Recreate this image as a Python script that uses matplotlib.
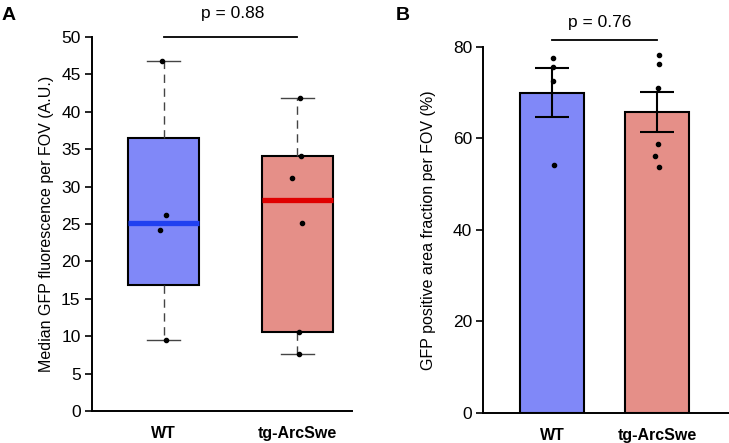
import numpy as np
import matplotlib
matplotlib.use("Agg")
import matplotlib.pyplot as plt

plt.rcParams['font.family'] = ['Liberation Sans', 'DejaVu Sans']

# ---- data ----
groups = ["WT", "tg-ArcSwe"]

# panel A: per-animal median GFP fluorescence (A.U.)
fluor_wt = [46.8, 26.2, 24.2, 9.5]
fluor_tg = [41.9, 34.1, 31.1, 25.2, 10.5, 7.6]
p_fluor = "p = 0.88"

# panel B: GFP positive area fraction (%)
area_wt = [77.6, 75.5, 72.6, 54.2]
area_tg = [78.2, 76.2, 71.0, 58.8, 56.2, 53.7]
p_area = "p = 0.76"

# small horizontal jitter for the dots (data units)
jit_a = [[-0.01, 0.015, -0.028, 0.022], [0.02, 0.03, -0.042, 0.035, 0.01, 0.013]]
jit_b = [[0.005, 0.003, 0.01, 0.02], [0.015, 0.02, 0.008, 0.01, -0.018, 0.017]]

fills = ["#8088F8", "#E58F88"]
medcols = ["#2040F0", "#E00000"]


def hinge_stats(vals, label):
    # R-style boxplot stats (Tukey hinges)
    v = np.sort(np.asarray(vals, dtype=float))
    n = len(v)
    med = np.median(v)
    half = (n + 1) // 2
    q1 = np.median(v[:half])
    q3 = np.median(v[n - half:])
    return dict(med=med, q1=q1, q3=q3, whislo=v.min(), whishi=v.max(),
                fliers=[], label=label)


fig = plt.figure(figsize=(7.29, 4.43), dpi=100)
axA = fig.add_axes([0.1258, 0.0722, 0.3571, 0.8443])
axB = fig.add_axes([0.663, 0.0684, 0.337, 0.8262])

# ==============================
# PANEL A - boxplot
# ==============================
stats = [hinge_stats(fluor_wt, groups[0]), hinge_stats(fluor_tg, groups[1])]
bp = axA.bxp(stats, positions=[1, 2], widths=0.53, patch_artist=True,
             capwidths=0.25, showfliers=False,
             boxprops=dict(edgecolor="black", linewidth=1.5),
             whiskerprops=dict(color="#444444", linewidth=1.0, linestyle=(0, (6, 4))),
             capprops=dict(color="#444444", linewidth=1.0),
             medianprops=dict(linewidth=3.8, solid_capstyle="butt"))
for i, box in enumerate(bp["boxes"]):
    box.set_facecolor(fills[i])
    box.set_zorder(2)
for i, med in enumerate(bp["medians"]):
    med.set_color(medcols[i])
    med.set_zorder(3)

for i, vals in enumerate([fluor_wt, fluor_tg]):
    xs = np.array(jit_a[i]) + i + 1
    axA.plot(xs, vals, "o", color="black", markersize=3.0, zorder=4)

axA.set_xlim(0.463, 2.41)
axA.set_ylim(0, 50)
axA.set_yticks(range(0, 51, 5))
axA.set_ylabel("Median GFP fluorescence per FOV (A.U.)", fontsize=11.5, labelpad=5)

axA.plot([1, 2], [50, 50], color="black", linewidth=1.3, clip_on=False)
axA.text(1.52, 53.2, p_fluor, ha="center", va="center", fontsize=12.5)

# ==============================
# PANEL B - bar chart with SEM
# ==============================
means = [np.mean(area_wt), np.mean(area_tg)]
sems = [np.std(area_wt, ddof=1) / np.sqrt(len(area_wt)),
        np.std(area_tg, ddof=1) / np.sqrt(len(area_tg))]
axB.bar([1, 2], means, width=0.61, color=fills, edgecolor="black",
        linewidth=1.5, zorder=2)
axB.errorbar([1, 2], means, yerr=sems, fmt="none", ecolor="black",
             elinewidth=1.5, capsize=12, capthick=1.5, zorder=3)
for i, vals in enumerate([area_wt, area_tg]):
    xs = np.array(jit_b[i]) + i + 1
    axB.plot(xs, vals, "o", color="black", markersize=3.0, zorder=4)

axB.set_xlim(0.343, 2.684)
axB.set_ylim(0, 80)
axB.set_yticks(range(0, 81, 20))
axB.set_ylabel("GFP positive area fraction per FOV (%)", fontsize=11.5, labelpad=12)

axB.plot([1, 2], [81.5, 81.5], color="black", linewidth=1.3, clip_on=False)
axB.text(1.45, 85.3, p_area, ha="center", va="center", fontsize=12.5)

# common styling
for ax in (axA, axB):
    for s in ("top", "right"):
        ax.spines[s].set_visible(False)
    for s in ("left", "bottom"):
        ax.spines[s].set_linewidth(1.4)
    ax.set_xticks([1, 2])
    ax.set_xticklabels(groups, fontsize=11.5, fontweight="bold")
    ax.tick_params(axis="x", length=0, pad=11)
    ax.tick_params(axis="y", labelsize=12.5, length=5, width=1.2, pad=3)

fig.text(0.002, 0.985, "A", fontsize=14, fontweight="bold", ha="left", va="top")
fig.text(0.543, 0.985, "B", fontsize=14, fontweight="bold", ha="left", va="top")

fig.savefig("out.png", dpi=100)
